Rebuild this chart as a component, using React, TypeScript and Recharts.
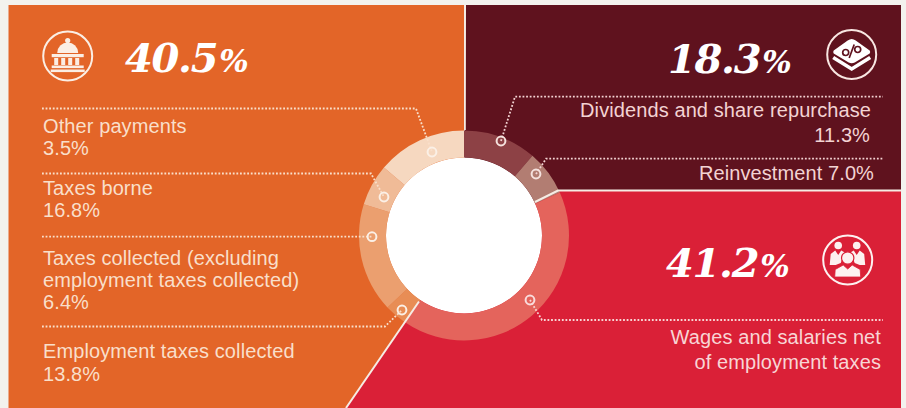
import { PieChart, Pie, Cell } from "recharts";

// ring slices, clockwise from 12 o'clock
const sliceNames = [
    "Dividends and share repurchase",
    "Reinvestment",
    "Wages and salaries net of employment taxes",
    "Other payments",
    "Taxes borne",
    "Taxes collected (excluding employment taxes collected)",
    "Employment taxes collected",
];
const sliceValues = [11.3, 7.0, 41.2, 3.5, 16.8, 6.4, 13.8];
const sliceColors = ["#8d4145", "#b27d72", "#e4645c", "#e88d55", "#eb9f6f", "#f0bb97", "#f6d8c0"];

const groupTotals = ["40.5", "18.3", "41.2"];

const chartData = sliceNames.map((name, i) => ({ name, value: sliceValues[i] }));

const WIDTH = 906;
const HEIGHT = 408;
const CX = 464;
const CY = 235.5;

const ORANGE = "#e36528";
const MAROON = "#5f121e";
const RED = "#da2037";
const PEACH = "#f9dfca";
const PINK = "#f3d3d3";
const ROSE = "#f8d5d5";
const LINE = "#f6ece4";

const layer = { position: "absolute", left: 0, top: 0 } as const;

const Panels = () => (
    <svg width={WIDTH} height={HEIGHT} style={layer}>
        <rect width={WIDTH} height={HEIGHT} fill="#f3f2ee" />
        <polygon points={`8.5,5 464,5 464,${CY} 346,408 8.5,408`} fill={ORANGE} />
        <polygon points={`466,5 901,5 901,190 558,190 ${CX},${CY}`} fill={MAROON} />
        <polygon points={`558,191 901,191 901,408 346,408 ${CX},${CY}`} fill={RED} />
    </svg>
);

const Label = ({ x, y, text, fill, end }: { x: number; y: number; text: string; fill: string; end?: boolean }) => (
    <text
        x={x}
        y={y}
        fill={fill}
        textAnchor={end ? "end" : "start"}
        fontFamily="'Liberation Sans', sans-serif"
        fontSize={20}
        letterSpacing={0.1}
    >
        {text}
    </text>
);

const Total = ({ x, y, value }: { x: number; y: number; value: string }) => (
    <text x={x} y={y} fill="#fff" fontFamily="'DejaVu Serif', serif" fontWeight="bold" fontStyle="italic" fontSize={40} letterSpacing={-1.3}>
        {value}
        <tspan fontSize={31} letterSpacing={0} dx={2}>%</tspan>
    </text>
);

const Leader = ({ points, stroke }: { points: string; stroke: string }) => (
    <polyline points={points} fill="none" stroke={stroke} strokeWidth={1.8} strokeDasharray="1.8 1.8" />
);

const Marker = ({ x, y, stroke }: { x: number; y: number; stroke: string }) => (
    <circle cx={x} cy={y} r={4.4} fill="none" stroke={stroke} strokeWidth={2} />
);

const CapitolIcon = () => (
    <g transform="translate(67.7 56)" fill="#fbeee4">
        <circle r={24.5} fill="none" stroke="#fbeee4" strokeWidth={2} />
        <circle cy={-15.5} r={2.6} />
        <path d="M-10.5 -3 A10.5 10.5 0 0 1 10.5 -3 Z" />
        <rect x={-16} y={-2} width={32} height={3.2} />
        <rect x={-13.5} y={2} width={4} height={7} />
        <rect x={-6.5} y={2} width={4} height={7} />
        <rect x={0.5} y={2} width={4} height={7} />
        <rect x={7.5} y={2} width={4} height={7} />
        <rect x={-16} y={9.5} width={32} height={2.6} />
        <rect x={-17} y={13.5} width={34} height={2.6} />
    </g>
);

const SharesIcon = () => (
    <g transform="translate(851.7 54.5)">
        <circle r={24.5} fill="none" stroke="#f8e6e2" strokeWidth={2} />
        <path d="M0 -15.5 Q2 -15.5 4 -14 L18 -4 Q19 -2.5 18 -1 L3 8 Q0 9.5 -3 8 L-18 -1 Q-19 -2.5 -18 -4 L-4 -14 Q-2 -15.5 0 -15.5 Z" fill="#fff" />
        <path d="M-18.5 3 L0 14.5 L18.5 3" fill="none" stroke="#fff" strokeWidth={3.6} />
        <circle cx={-6} cy={-2} r={3} fill="none" stroke={MAROON} strokeWidth={1.7} />
        <circle cx={6} cy={-5} r={3} fill="none" stroke={MAROON} strokeWidth={1.7} />
        <line x1={-2.5} y1={3.5} x2={2.5} y2={-10} stroke={MAROON} strokeWidth={1.7} />
    </g>
);

const PeopleIcon = () => (
    <g transform="translate(847.7 260)" fill="#fdf1f0">
        <circle r={24.5} fill="none" stroke="#fdf1f0" strokeWidth={2} />
        <circle cx={-9.5} cy={-14.5} r={3.8} />
        <circle cx={9} cy={-14.5} r={3.8} />
        <path d="M-18 5 L-17 -6 L-12.5 -9.5 L-9.5 -5 L-6.5 -9.5 L-2 -7 L-4 -5 L-7 3 L-12 5 Z" />
        <path d="M17.5 5 L16.5 -6 L12 -9.5 L9 -5 L6 -9.5 L2 -7 L4 -5 L7 3 L12 5 Z" />
        <circle cy={-2} r={6.2} stroke={RED} strokeWidth={1.2} />
        <path d="M-13 17 L-12.5 9.5 L-4.5 5 L0 9 L4.5 5 L12.5 9.5 L13 17 Z" stroke={RED} strokeWidth={0.8} />
    </g>
);

const Overlay = () => (
    <svg width={WIDTH} height={HEIGHT} style={layer}>
        {/* seams between the three panels */}
        <line x1={465} y1={5} x2={465} y2={130} stroke={LINE} strokeWidth={1.6} />
        <polyline points="535,202 558,190.5 901,190.5" fill="none" stroke={LINE} strokeWidth={2} />
        <line x1={419} y1={301.5} x2={346} y2={408} stroke={LINE} strokeWidth={2} />

        <CapitolIcon />
        <SharesIcon />
        <PeopleIcon />

        <Total x={125} y={72} value={groupTotals[0]} />
        <Total x={668} y={73} value={groupTotals[1]} />
        <Total x={666} y={277} value={groupTotals[2]} />

        <Leader points="42,108.5 416,108.5 432,152" stroke={PEACH} />
        <Leader points="42,173.5 371,173.5 384,197" stroke={PEACH} />
        <Leader points="42,236.7 372,236.7" stroke={PEACH} />
        <Leader points="42,326.5 385,326.5 402,310" stroke={PEACH} />
        <Leader points="501,141 515,96.7 883,96.7" stroke={PINK} />
        <Leader points="536,174 546,158.7 883,158.7" stroke={PINK} />
        <Leader points="530,300 542,320 883,320" stroke={ROSE} />

        <Marker x={432} y={152} stroke="#fbf0e6" />
        <Marker x={384} y={197} stroke="#fbf0e6" />
        <Marker x={372} y={236.7} stroke="#fbf0e6" />
        <Marker x={402} y={310} stroke="#fbf0e6" />
        <Marker x={501} y={141} stroke="#f5e2de" />
        <Marker x={536} y={174} stroke="#f5e2de" />
        <Marker x={530} y={300} stroke="#f9dcdc" />

        <Label x={43} y={133} text="Other payments" fill={PEACH} />
        <Label x={43} y={155} text="3.5%" fill={PEACH} />
        <Label x={43} y={195} text="Taxes borne" fill={PEACH} />
        <Label x={43} y={217} text="16.8%" fill={PEACH} />
        <Label x={43} y={265} text="Taxes collected (excluding" fill={PEACH} />
        <Label x={43} y={287} text="employment taxes collected)" fill={PEACH} />
        <Label x={43} y={309} text="6.4%" fill={PEACH} />
        <Label x={43} y={358} text="Employment taxes collected" fill={PEACH} />
        <Label x={43} y={380.5} text="13.8%" fill={PEACH} />

        <Label end x={871} y={116.5} text="Dividends and share repurchase" fill={PINK} />
        <Label end x={870} y={142} text="11.3%" fill={PINK} />
        <Label end x={874} y={180} text="Reinvestment 7.0%" fill={PINK} />
        <Label end x={881} y={344} text="Wages and salaries net" fill={ROSE} />
        <Label end x={881} y={369} text="of employment taxes" fill={ROSE} />
    </svg>
);

const App = () => (
    <div style={{ position: "absolute", left: 0, top: 0, width: WIDTH, height: HEIGHT, overflow: "hidden" }}>
        <Panels />
        <div style={layer}>
            <PieChart width={WIDTH} height={HEIGHT} margin={{ top: 0, right: 0, bottom: 0, left: 0 }}>
                <Pie
                    data={[{ name: "hole", value: 1 }]}
                    dataKey="value"
                    cx={CX}
                    cy={CY}
                    innerRadius={0}
                    outerRadius={78}
                    fill="#fff"
                    stroke="none"
                    isAnimationActive={false}
                />
                <Pie
                    data={chartData}
                    dataKey="value"
                    cx={CX}
                    cy={CY}
                    startAngle={90}
                    endAngle={-270}
                    innerRadius={78}
                    outerRadius={105}
                    stroke="none"
                    isAnimationActive={false}
                >
                    {chartData.map((_, index) => (
                        <Cell key={`cell-${index}`} fill={sliceColors[index]} />
                    ))}
                </Pie>
            </PieChart>
        </div>
        <Overlay />
    </div>
);

export default App;
